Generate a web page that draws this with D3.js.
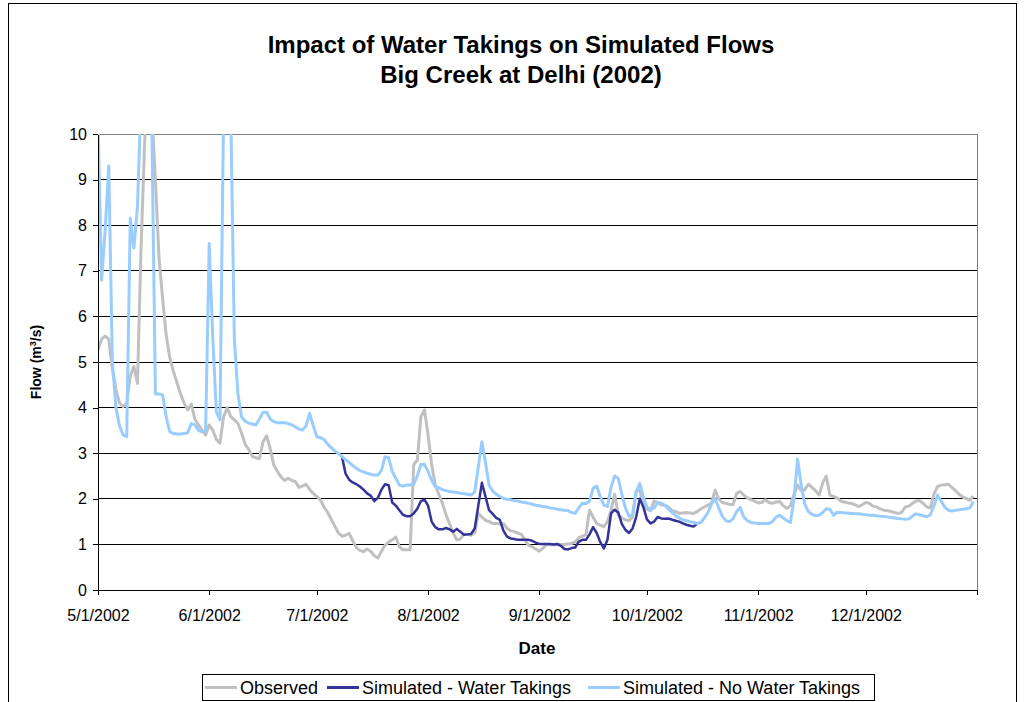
<!DOCTYPE html>
<html>
<head>
<meta charset="utf-8">
<script src="https://cdn.jsdelivr.net/npm/d3@7/dist/d3.min.js"></script>
<style>
  body { margin: 0; background: #fff; }
  #chart svg { display: block; font-family: "Liberation Sans", Arial, sans-serif; }
  .gridLine { stroke: #000; stroke-width: 1; shape-rendering: crispEdges; }
  .axisTxt text { font-size: 16px; fill: #000; }
  .axisTxt line, .axisTxt path { stroke: #000; shape-rendering: crispEdges; }
</style>
</head>
<body>
<div id="chart"></div>
<script>
// daily values, day 0 = 5/1/2002
var startDay = "2002-05-01";
var endDay = "2003-01-01";

var observedFlow = [
  5.26, 5.5, 5.57, 5.5, 4.85, 4.4, 4.1, 4.02, 4.1, 4.7,
  4.9, 4.53, 7.5, 9.8, 11.5, 10.5, 9.0, 7.3, 6.4, 5.6,
  5.1, 4.8, 4.55, 4.3, 4.1, 3.95, 4.08, 3.75, 3.62, 3.5,
  3.4, 3.62, 3.5, 3.3, 3.22, 3.8, 4.0, 3.8, 3.73, 3.65,
  3.45, 3.2, 3.08, 2.93, 2.9, 2.88, 3.25, 3.38, 3.1, 2.74,
  2.6, 2.48, 2.4, 2.45, 2.4, 2.38, 2.25, 2.28, 2.32, 2.2,
  2.12, 2.05, 1.97, 1.82, 1.7, 1.55, 1.4, 1.25, 1.18, 1.2,
  1.24, 1.08, 0.93, 0.87, 0.84, 0.9, 0.85, 0.75, 0.7, 0.85,
  0.98, 1.05, 1.1, 1.16, 0.95, 0.88, 0.88, 0.88, 2.75, 2.85,
  3.8, 3.95, 3.4, 2.75, 2.3, 2.1, 1.9, 1.65, 1.45, 1.25,
  1.1, 1.12, 1.22, 1.22, 1.2, 1.25, 1.68, 1.6, 1.53, 1.5,
  1.46, 1.46, 1.45, 1.46, 1.35, 1.3, 1.28, 1.25, 1.22, 1.1,
  0.98, 0.95, 0.9, 0.85, 0.92, 0.99, 0.99, 0.99, 0.99, 1.0,
  1.0, 1.01, 1.02, 1.05, 1.15, 1.18, 1.21, 1.75, 1.6, 1.46,
  1.42, 1.39, 1.5, 1.75, 2.1, 1.65, 1.58, 1.54, 1.52, 1.6,
  2.18, 2.2, 1.85, 1.77, 1.74, 1.95, 1.92, 1.87, 1.85, 1.82,
  1.74, 1.72, 1.68, 1.69, 1.7, 1.69, 1.68, 1.72, 1.78, 1.82,
  1.86, 1.9, 2.19, 2.0, 1.92, 1.9, 1.88, 1.87, 2.12, 2.16,
  2.08, 2.02, 1.98, 1.95, 1.91, 1.92, 1.98, 1.92, 1.9, 1.93,
  1.94, 1.85, 1.79, 1.85, 2.1, 2.3, 2.18, 2.2, 2.32, 2.25,
  2.18, 2.08, 2.35, 2.5, 2.08, 2.05, 2.02, 1.95, 1.93, 1.91,
  1.9, 1.87, 1.83, 1.87, 1.92, 1.9, 1.84, 1.82, 1.78, 1.75,
  1.74, 1.72, 1.7, 1.68, 1.7, 1.82, 1.84, 1.9, 1.95, 1.96,
  1.9, 1.82, 1.8, 2.1, 2.27, 2.3, 2.31, 2.32, 2.25, 2.18,
  2.1, 2.04, 2.01, 1.97, 2.06
];

// simulated with water takings only differs from day 68 (7/8) to day 167 (10/15)
var takingsFirstDay = 68;
var takingsFlow = [
  2.93, 2.55, 2.42, 2.36, 2.32, 2.27, 2.2, 2.12, 2.07, 1.95,
  2.02, 2.2, 2.32, 2.3, 1.92, 1.85, 1.75, 1.65, 1.62, 1.62,
  1.68, 1.78, 1.95, 1.98, 1.85, 1.5, 1.38, 1.33, 1.33, 1.36,
  1.33, 1.28, 1.34, 1.28, 1.21, 1.22, 1.23, 1.35, 1.85, 2.35,
  2.05, 1.75, 1.67, 1.58, 1.54, 1.3, 1.17, 1.13, 1.12, 1.1,
  1.1, 1.1, 1.1, 1.08, 1.04, 1.01, 1.01, 1.01, 1.01, 1.0,
  1.01, 0.97, 0.9, 0.89, 0.92, 0.93, 1.06, 1.1, 1.1, 1.22,
  1.38, 1.25, 1.05, 0.91, 1.1, 1.68, 1.76, 1.7, 1.45, 1.32,
  1.25, 1.35, 1.6, 2.0, 1.82, 1.55, 1.46, 1.5, 1.6, 1.57,
  1.56, 1.57, 1.54, 1.52, 1.5, 1.46, 1.43, 1.41, 1.39, 1.45
];

var noTakingsFlow = [
  10.3, 6.8, 7.9, 9.3, 5.0, 4.0, 3.6, 3.4, 3.36, 8.15,
  7.5, 8.4, 10.8, 11, 10.6, 10.2, 4.3, 4.3, 4.28, 3.8,
  3.47, 3.43, 3.42, 3.42, 3.43, 3.45, 3.65, 3.62, 3.5, 3.47,
  3.5, 7.6, 5.5, 3.9, 3.73, 10.5, 12, 10.5, 5.5, 4.3,
  3.8, 3.7, 3.66, 3.64, 3.62, 3.75, 3.9, 3.9, 3.75, 3.69,
  3.67, 3.67, 3.67, 3.65, 3.62, 3.58, 3.53, 3.51, 3.6, 3.87,
  3.6, 3.36, 3.34, 3.3, 3.2, 3.12, 3.05, 2.99, 2.93, 2.86,
  2.8, 2.73, 2.67, 2.62, 2.59, 2.56, 2.54, 2.52, 2.52, 2.62,
  2.92, 2.9, 2.6, 2.45, 2.3, 2.28, 2.3, 2.3, 2.32, 2.5,
  2.75, 2.75, 2.6, 2.4, 2.27, 2.24, 2.2, 2.18, 2.16, 2.15,
  2.14, 2.12, 2.11, 2.1, 2.08, 2.15, 2.7, 3.25, 2.8, 2.3,
  2.17, 2.1, 2.05, 2.01, 1.99, 1.98, 1.96, 1.95, 1.93, 1.92,
  1.9, 1.88, 1.86, 1.85, 1.83, 1.82, 1.8, 1.79, 1.77, 1.76,
  1.75, 1.74, 1.7, 1.68, 1.8, 1.9, 1.89, 1.95, 2.23, 2.28,
  2.05, 1.86, 1.83, 2.25, 2.5, 2.45, 2.1, 1.8, 1.62, 1.65,
  2.15, 2.34, 2.05, 1.82, 1.76, 1.8, 1.92, 1.9, 1.86, 1.78,
  1.7, 1.63, 1.58, 1.54, 1.52, 1.5, 1.48, 1.46, 1.48, 1.58,
  1.7, 1.88, 2.01, 1.8, 1.62, 1.52, 1.5, 1.56, 1.72, 1.81,
  1.6, 1.52, 1.48, 1.47, 1.46, 1.46, 1.46, 1.46, 1.5, 1.6,
  1.64, 1.58, 1.52, 1.48, 2.0, 2.87, 2.3, 1.88, 1.72, 1.66,
  1.63, 1.64, 1.7, 1.78, 1.77, 1.64, 1.7, 1.7, 1.69, 1.69,
  1.68, 1.67, 1.67, 1.66, 1.65, 1.64, 1.64, 1.63, 1.62, 1.61,
  1.6, 1.59, 1.58, 1.57, 1.56, 1.55, 1.56, 1.62, 1.67, 1.65,
  1.63, 1.61, 1.65, 1.85, 2.08, 1.95, 1.82, 1.75, 1.73, 1.75,
  1.76, 1.77, 1.78, 1.8, 1.94
];

var yTicks = [0, 1, 2, 3, 4, 5, 6, 7, 8, 9, 10];
var seriesNames = ["Observed", "Simulated - Water Takings", "Simulated - No Water Takings"];
var seriesColors = ["#c0c0c0", "#333399", "#99ccff"];

(function () {
  'use strict'

  var W = 1024, H = 702;
  var margin = {top: 134, right: 47, bottom: 112, left: 98},
      width = W - margin.left - margin.right,
      height = H - margin.top - margin.bottom;

  var parseDay = d3.timeParse("%Y-%m-%d");
  var day0 = parseDay(startDay);
  var fmt = d3.timeFormat("%-m/%-d/%Y");

  var x = d3.scaleTime().domain([day0, parseDay(endDay)]).range([0, width]);
  var y = d3.scaleLinear().domain([0, 10]).range([height, 0]);

  function toPoints(arr, first) {
    return arr.map(function (v, i) { return {date: d3.timeDay.offset(day0, first + i), v: v}; });
  }
  var series = [
    toPoints(observedFlow, 0),
    toPoints(takingsFlow, takingsFirstDay),
    toPoints(noTakingsFlow, 0)
  ];

  var svg = d3.select("#chart").append("svg")
      .attr("width", W)
      .attr("height", H);

  // outer chart frame
  svg.append("rect")
      .attr("x", 8.5).attr("y", 3.5)
      .attr("width", 1008).attr("height", H + 10)
      .attr("fill", "#fff").attr("stroke", "#000").attr("stroke-width", 1);

  // title
  svg.append("text")
      .attr("x", 521).attr("y", 53)
      .attr("text-anchor", "middle")
      .style("font-size", "24px").style("font-weight", "bold")
      .text("Impact of Water Takings on Simulated Flows");
  svg.append("text")
      .attr("x", 521).attr("y", 83)
      .attr("text-anchor", "middle")
      .style("font-size", "24px").style("font-weight", "bold")
      .text("Big Creek at Delhi (2002)");

  var g = svg.append("g")
      .attr("transform", "translate(" + margin.left + "," + margin.top + ")");

  g.append("defs").append("clipPath").attr("id", "plotClip")
      .append("rect").attr("x", 0).attr("y", 0).attr("width", width).attr("height", height);

  // gridlines
  g.append("g")
      .selectAll("line")
      .data(yTicks.slice(1, -1))
      .enter().append("line")
      .attr("class", "gridLine")
      .attr("x1", 0).attr("x2", width)
      .attr("y1", function (d) { return y(d); })
      .attr("y2", function (d) { return y(d); });

  // plot area border (gray)
  g.append("rect")
      .attr("x", 0).attr("y", 0)
      .attr("width", width).attr("height", height)
      .attr("fill", "none").attr("stroke", "#808080")
      .attr("shape-rendering", "crispEdges");

  var line = d3.line()
      .x(function (d) { return x(d.date); })
      .y(function (d) { return y(d.v); });

  var widths = [3, 2.5, 3];
  var lines = g.append("g").attr("clip-path", "url(#plotClip)");
  series.forEach(function (s, i) {
    lines.append("path")
        .datum(s)
        .attr("fill", "none")
        .attr("stroke", seriesColors[i])
        .attr("stroke-width", widths[i])
        .attr("stroke-linejoin", "round")
        .attr("d", line);
  });

  // axes
  g.append("g")
      .attr("class", "axisTxt")
      .call(d3.axisLeft(y).tickValues(yTicks).tickSize(5).tickSizeOuter(0).tickPadding(6)
        .tickFormat(d3.format("d")));

  var monthTicks = d3.timeMonth.range(day0, d3.timeDay.offset(parseDay(endDay), 1));
  g.append("g")
      .attr("class", "axisTxt")
      .attr("transform", "translate(0," + height + ")")
      .call(d3.axisBottom(x).tickValues(monthTicks).tickSize(5).tickSizeOuter(0).tickPadding(15)
        .tickFormat(function (d, i) { return i < monthTicks.length - 1 ? fmt(d) : ""; }));

  // axis titles
  svg.append("text")
      .attr("x", 537).attr("y", 654)
      .attr("text-anchor", "middle")
      .style("font-size", "17px").style("font-weight", "bold")
      .text("Date");

  var yTitle = svg.append("text")
      .attr("transform", "translate(41,362) rotate(-90)")
      .attr("text-anchor", "middle")
      .style("font-size", "14px").style("font-weight", "bold");
  yTitle.append("tspan").text("Flow (m");
  yTitle.append("tspan").attr("dy", -5).style("font-size", "9px").text("3");
  yTitle.append("tspan").attr("dy", 5).text("/s)");

  // legend
  var legend = svg.append("g");
  legend.append("rect")
      .attr("x", 202.5).attr("y", 674.5)
      .attr("width", 672).attr("height", 26)
      .attr("fill", "#fff").attr("stroke", "#000");
  var legX = [205, 327, 588];
  seriesNames.forEach(function (nm, i) {
    legend.append("line")
        .attr("x1", legX[i]).attr("x2", legX[i] + 32)
        .attr("y1", 687.5).attr("y2", 687.5)
        .attr("stroke", seriesColors[i]).attr("stroke-width", 3);
    legend.append("text")
        .attr("x", legX[i] + 35).attr("y", 694)
        .style("font-size", "18px")
        .text(nm);
  });
})()
</script>
</body>
</html>
